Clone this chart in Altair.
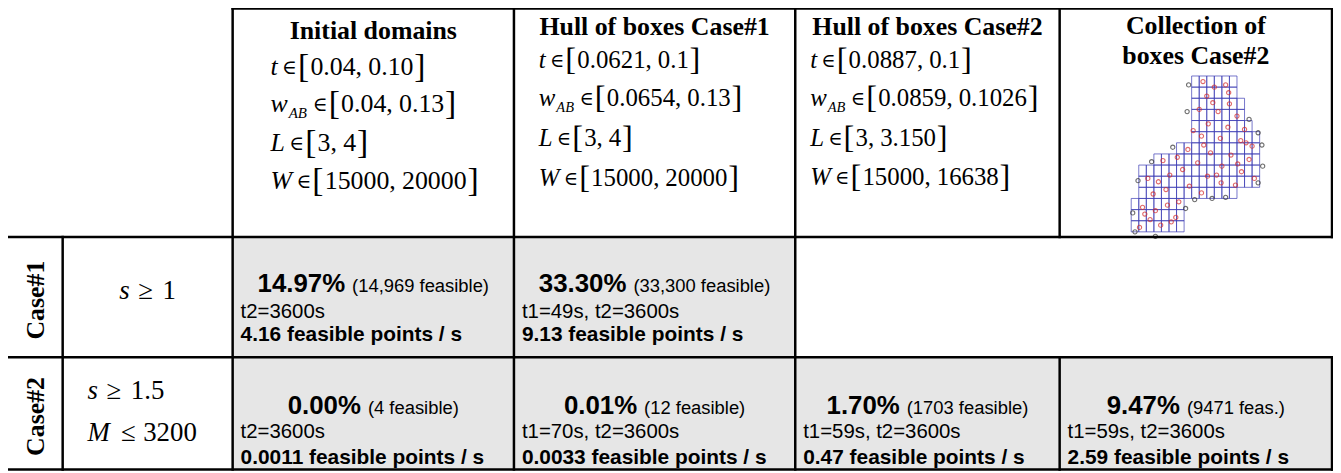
import altair as alt
import pandas as pd

# ---------------- table content ----------------
column_titles = ["Initial domains", "Hull of boxes Case#1", "Hull of boxes Case#2"]
collection_title = ["Collection of", "boxes Case#2"]
param_names = ["t", "w", "L", "W"]
param_subs = ["", "AB", "", ""]
lower_bounds = [
    ["0.04", "0.04", "3", "15000"],
    ["0.0621", "0.0654", "3", "15000"],
    ["0.0887", "0.0859", "3", "15000"],
]
upper_bounds = [
    ["0.10", "0.13", "4", "20000"],
    ["0.1", "0.13", "4", "20000"],
    ["0.1", "0.1026", "3.150", "16638"],
]
case_labels = ["Case#1", "Case#2"]
cond_case = [0, 1, 1]
cond_var = ["s", "s", "M"]
cond_rel = ["\u2265", "\u2265", "\u2264"]
cond_val = ["1", "1.5", "3200"]

res_case = [0, 0, 1, 1, 1, 1]
res_col = [0, 1, 0, 1, 2, 3]
res_pct = ["14.97%", "33.30%", "0.00%", "0.01%", "1.70%", "9.47%"]
res_note = ["(14,969 feasible)", "(33,300 feasible)", "(4 feasible)",
            "(12 feasible)", "(1703 feasible)", "(9471 feas.)"]
res_time = ["t2=3600s", "t1=49s, t2=3600s", "t2=3600s",
            "t1=70s, t2=3600s", "t1=59s, t2=3600s", "t1=59s, t2=3600s"]
res_rate = ["4.16 feasible points / s", "9.13 feasible points / s",
            "0.0011 feasible points / s", "0.0033 feasible points / s",
            "0.47 feasible points / s", "2.59 feasible points / s"]

# thumbnail of the collection of boxes (grid units)
box_blocks = [(8, 14, 0, 2), (8, 15, 2, 4), (8, 16, 4, 5), (8, 17, 5, 6),
              (6, 17, 6, 10), (3, 6, 7, 10), (1, 3, 8, 11), (1, 14, 10, 11),
              (0, 7, 11, 14)]
red_gx = [9.5, 11, 12.5, 10, 13, 9, 11.5, 14, 10.2, 12.8, 15, 9.3, 11.8, 14.5, 16, 7.5,
          10.5, 13.2, 15.6, 8.8, 12, 14.6, 6.8, 10.1, 16.3, 11.9, 4.2, 5.1, 3.6, 2.2,
          7.7, 9.3, 1.5, 3.2, 4.8, 2.5, 5.9, 1.1, 3.9, 6.3, 10.8, 12.9, 9.6, 14.1, 8.2,
          11.3, 13.8, 15.2, 6.1, 4.6, 2.9, 1.8, 5.3]
red_gy = [0.5, 1, 0.8, 1.8, 2.5, 3, 3.2, 3.6, 4.3, 4.6, 4.8, 5.4, 5.6, 5.8, 6.3, 6.6,
          6.9, 7.1, 7.5, 7.8, 8.1, 8.6, 8.4, 9.0, 9.2, 9.6, 7.6, 8.9, 9.5, 9.2,
          9.9, 10.5, 11.8, 12.1, 11.6, 12.9, 12.7, 13.6, 13.4, 11.3, 2.4, 1.5, 6.2,
          7.9, 4.9, 8.9, 9.8, 6.0, 7.3, 10.2, 10.6, 12.4, 13.1]
dark_gx = [7.6, 7.4, 15.6, 16.8, 17.3, 17.4, 16.8, 12.5, 10.7, 8.4, 5.5, 2.7, 0.9, 0.2, 0.5, 3.2, 7.2]
dark_gy = [0.8, 3.2, 3.9, 5.1, 6.2, 8.1, 9.6, 10.9, 11.0, 11.1, 6.4, 7.7, 9.4, 12.3, 14.0, 14.4, 11.9]

# ---------------- layout (page pixels) ----------------
COL_EDGES = [7, 63, 234, 517, 800, 1066, 1340]
ROW_EDGES = [7, 237, 358, 471]
HEAD_BASE = [38, 34, 34]
COLL_BASE = [33, 63]
MATH_X = [38, 25, 15]
MATH_FS = [26, 25, 25]
MATH_BASE = [[74, 111, 150, 189], [67, 105, 145, 186], [67, 105, 145, 185]]
RES_OFF = [[55, 81, 105], [57, 81, 107]]
THUMB = dict(x0=1138, y0=75, cw=7.6, ch=11.2)
GREY = "#e6e6e6"
SERIF = "Liberation Serif"
SANS = "Liberation Sans"

# font metrics (1/1000 em)
TIMES = {c: 500 for c in "0123456789"}
TIMES.update({".": 250, ",": 250, " ": 250})
TIMES_I = {"t": 278, "w": 667, "L": 556, "W": 833, "A": 611, "B": 611, "s": 389, "M": 833}
ARIAL = {c: 556 for c in "0123456789"}
ARIAL.update({".": 278, ",": 278, " ": 278, "(": 333, ")": 333, "%": 889,
              "f": 278, "e": 556, "a": 556, "s": 500, "i": 222, "b": 556, "l": 222})
ARIAL_B = {c: 556 for c in "0123456789"}
ARIAL_B.update({".": 278, "%": 889})


def tw(s, table, size):
    return sum(table.get(c, 500) for c in s) * size / 1000.0


ital, reg_left, rel_center, bold_center, sans_bold, sans_reg = [], [], [], [], [], []

# header titles
for ci, title in enumerate(column_titles):
    cx = (COL_EDGES[2 + ci] + COL_EDGES[3 + ci]) / 2
    bold_center.append(dict(x=cx, y=HEAD_BASE[ci], text=title, fs=26))
cx = (COL_EDGES[5] + COL_EDGES[6]) / 2
for li, line in enumerate(collection_title):
    bold_center.append(dict(x=cx, y=COLL_BASE[li], text=line, fs=26))

# header math lines
for ci in range(3):
    F = MATH_FS[ci]
    x0 = COL_EDGES[2 + ci] + MATH_X[ci]
    for li in range(4):
        base = MATH_BASE[ci][li]
        var = param_names[li]
        ital.append(dict(x=x0, y=base, text=var, fs=F))
        end = x0 + tw(var, TIMES_I, F)
        if param_subs[li]:
            sx = end + 0.04 * F
            sf = 0.58 * F
            ital.append(dict(x=sx, y=base + 0.25 * F, text=param_subs[li], fs=sf))
            end = sx + tw(param_subs[li], TIMES_I, sf) + 0.05 * F
        relc = end + 0.46 * F
        rel_center.append(dict(x=relc, y=base - 1, text="\u2208", fs=0.78 * F))
        bl = relc + 0.33 * F
        reg_left.append(dict(x=bl, y=base + 2, text="[", fs=1.3 * F))
        nx = bl + 0.48 * F
        lo = lower_bounds[ci][li] + ","
        reg_left.append(dict(x=nx, y=base, text=lo, fs=F))
        hx = nx + tw(lo, TIMES, F) + 0.24 * F
        hi = upper_bounds[ci][li]
        reg_left.append(dict(x=hx, y=base, text=hi, fs=F))
        cb = hx + tw(hi, TIMES, F) + 0.03 * F
        reg_left.append(dict(x=cb, y=base + 2, text="]", fs=1.3 * F))

# case labels (rotated)
case_rows = []
for ri, lab in enumerate(case_labels):
    cy = (ROW_EDGES[1 + ri] + ROW_EDGES[2 + ri]) / 2 + 3
    case_rows.append(dict(x=(COL_EDGES[0] + COL_EDGES[1]) / 2 + 1, y=cy, text=lab, fs=26))

# conditions
CF = 27
cond_lines = {0: [], 1: []}
for k in range(len(cond_var)):
    cond_lines[cond_case[k]].append(k)
for case, idxs in cond_lines.items():
    for j, k in enumerate(idxs):
        v, r, val = cond_var[k], cond_rel[k], cond_val[k]
        vw = tw(v, TIMES_I, CF)
        g1 = 16 if v == "s" else 18.5
        g2 = 17 if v == "s" else 15
        if len(idxs) == 1:
            total = vw + g1 + g2 + tw(val, TIMES, CF)
            cxm = (COL_EDGES[1] + COL_EDGES[2]) / 2
            x0 = cxm - total / 2
            base = (ROW_EDGES[1 + case] + ROW_EDGES[2 + case]) / 2 + 2
        else:
            x0 = COL_EDGES[1] + 25
            base = ROW_EDGES[1 + case] + 42 + j * 42
        ital.append(dict(x=x0, y=base, text=v, fs=CF))
        rc = x0 + vw + g1
        rel_center.append(dict(x=rc, y=base, text=r, fs=CF))
        reg_left.append(dict(x=rc + g2, y=base, text=val, fs=CF))

# result cells
grey_cells = []
for k in range(len(res_pct)):
    ri, ci = res_case[k], res_col[k]
    left, right = COL_EDGES[2 + ci], COL_EDGES[3 + ci]
    top, bottom = ROW_EDGES[1 + ri], ROW_EDGES[2 + ri]
    grey_cells.append(dict(x=left, x2=right, y=top, y2=bottom))
    wb = tw(res_pct[k], ARIAL_B, 26)
    wr = tw(res_note[k], ARIAL, 18.5)
    sx = (left + right) / 2 - (wb + 7 + wr) / 2
    off = RES_OFF[ri]
    sans_bold.append(dict(x=sx, y=top + off[0], text=res_pct[k], fs=26))
    sans_reg.append(dict(x=sx + wb + 7, y=top + off[0], text=res_note[k], fs=18.5))
    sans_reg.append(dict(x=left + 8, y=top + off[1], text=res_time[k], fs=20.5))
    sans_bold.append(dict(x=left + 8, y=top + off[2], text=res_rate[k], fs=21))

# grid lines
lines = []
for yi, y in enumerate(ROW_EDGES):
    xs_ = COL_EDGES[2] if yi == 0 else COL_EDGES[0]
    lines.append(dict(x=xs_, x2=COL_EDGES[-1], y=y, y2=y))
for xi, x in enumerate(COL_EDGES[1:], start=1):
    if xi == 1:
        lines.append(dict(x=x, x2=x, y=ROW_EDGES[1], y2=ROW_EDGES[3]))
    elif xi <= 4:
        lines.append(dict(x=x, x2=x, y=ROW_EDGES[0], y2=ROW_EDGES[3]))
    else:
        lines.append(dict(x=x, x2=x, y=ROW_EDGES[0], y2=ROW_EDGES[1]))
        lines.append(dict(x=x, x2=x, y=ROW_EDGES[2], y2=ROW_EDGES[3]))

# thumbnail cells
cells = set()
for (c0, c1, r0, r1) in box_blocks:
    for c in range(c0, c1):
        for r in range(r0, r1):
            cells.add((c, r))
thumb_cells = [dict(x=THUMB["x0"] + c * THUMB["cw"], x2=THUMB["x0"] + (c + 1) * THUMB["cw"],
                    y=THUMB["y0"] + r * THUMB["ch"], y2=THUMB["y0"] + (r + 1) * THUMB["ch"])
               for (c, r) in sorted(cells)]
thumb_pts = ([dict(x=THUMB["x0"] + gx * THUMB["cw"], y=THUMB["y0"] + gy * THUMB["ch"], kind="feasible")
              for gx, gy in zip(red_gx, red_gy)] +
             [dict(x=THUMB["x0"] + gx * THUMB["cw"], y=THUMB["y0"] + gy * THUMB["ch"], kind="infeasible")
              for gx, gy in zip(dark_gx, dark_gy)])

# ---------------- chart ----------------
W_PX, H_PX = 1333, 465
xsc = alt.Scale(domain=[8, 8 + W_PX], range=[0, W_PX])
ysc = alt.Scale(domain=[8, 8 + H_PX], range=[0, H_PX])


def X(f):
    return alt.X(f, type="quantitative", scale=xsc, axis=None)


def Y(f):
    return alt.Y(f, type="quantitative", scale=ysc, axis=None)


def text_layer(rows, font, align, weight="normal", style="normal", angle=0, baseline="alphabetic"):
    kw = dict(font=font, align=align, baseline=baseline, fontWeight=weight,
              fontStyle=style, color="black")
    if angle:
        kw["angle"] = angle
    return alt.Chart(pd.DataFrame(rows)).mark_text(**kw).encode(
        x=X("x"), y=Y("y"), text="text:N", size=alt.Size("fs:Q", scale=None))


grey_layer = alt.Chart(pd.DataFrame(grey_cells)).mark_rect(fill=GREY, strokeWidth=0).encode(
    x=X("x"), x2=alt.X2("x2"), y=Y("y"), y2=alt.Y2("y2"))
thumb_rect_layer = alt.Chart(pd.DataFrame(thumb_cells)).mark_rect(
    fill="white", fillOpacity=0, stroke="#3c3cb4", strokeWidth=0.7).encode(
    x=X("x"), x2=alt.X2("x2"), y=Y("y"), y2=alt.Y2("y2"))
thumb_pt_layer = alt.Chart(pd.DataFrame(thumb_pts)).mark_point(
    shape="circle", filled=False, size=18, strokeWidth=1.1).encode(
    x=X("x"), y=Y("y"),
    color=alt.Color("kind:N", scale=alt.Scale(domain=["feasible", "infeasible"],
                                              range=["#d42a2a", "#303030"]), legend=None))
line_layer = alt.Chart(pd.DataFrame(lines)).mark_rule(
    color="black", strokeWidth=2.5, strokeCap="square").encode(
    x=X("x"), x2=alt.X2("x2"), y=Y("y"), y2=alt.Y2("y2"))

layers = [
    grey_layer,
    thumb_rect_layer,
    thumb_pt_layer,
    text_layer(bold_center, SERIF, "center", weight="bold"),
    text_layer(ital, SERIF, "left", style="italic"),
    text_layer(reg_left, SERIF, "left"),
    text_layer(rel_center, SERIF + ", DejaVu Serif", "center"),
    text_layer(case_rows, SERIF, "center", weight="bold", angle=270, baseline="middle"),
    text_layer(sans_bold, SANS, "left", weight="bold"),
    text_layer(sans_reg, SANS, "left"),
    line_layer,
]

chart = alt.layer(*layers).properties(
    width=W_PX, height=H_PX, padding=0, autosize="none", background="white"
).configure_view(strokeWidth=0)

chart.save("out.html", embed_options={"renderer": "svg", "actions": False})
